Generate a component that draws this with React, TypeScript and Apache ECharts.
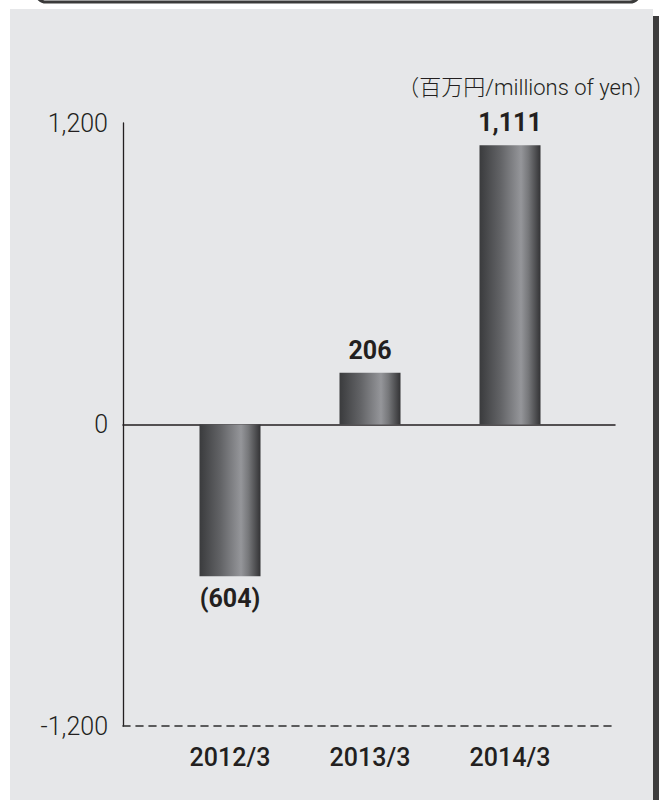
import React, { useEffect, useRef } from "react";
import * as echarts from "echarts";

const categories = ["2012/3", "2013/3", "2014/3"];
const values = [-604, 206, 1111];
const yTicks = [-1200, 0, 1200];
const unitLabel = "（百万円/millions of yen）";

const INK = "#231f20";

export default function App() {
  const ref = useRef<HTMLDivElement>(null);
  useEffect(() => {
    if (!ref.current) return;
    const chart = echarts.init(ref.current, undefined, { renderer: "svg" });
    const barGradient = new echarts.graphic.LinearGradient(0, 0, 1, 0, [
      { offset: 0, color: "#3a3b3d" },
      { offset: 0.35, color: "#636467" },
      { offset: 0.68, color: "#95969a" },
      { offset: 0.8, color: "#77787b" },
      { offset: 1, color: "#333335" },
    ]);
    const fmt = (v: number) => Math.abs(v).toLocaleString("en-US");
    chart.setOption({
      animation: false,
      backgroundColor: "#ffffff",
      graphic: [
        {
          type: "rect",
          z: -10,
          shape: { x: 36, y: -30, width: 604, height: 32, r: 10 },
          style: { fill: "none", stroke: "#3a3a3a", lineWidth: 3 },
          silent: true,
        },
        {
          type: "rect",
          z: -10,
          shape: { x: 10, y: 9, width: 643, height: 800 },
          style: { fill: "#e6e7e9" },
          silent: true,
        },
        {
          type: "rect",
          z: -10,
          shape: { x: 653, y: 16, width: 6, height: 790 },
          style: { fill: "#3d3d3d" },
          silent: true,
        },
        {
          type: "text",
          z: 10,
          x: 655,
          y: 87,
          style: {
            text: unitLabel,
            align: "right",
            verticalAlign: "middle",
            fill: INK,
            font: '300 22px Roboto, "Noto Sans CJK JP", sans-serif',
          },
          silent: true,
        },
      ],
      grid: [
        { left: 123, right: 44, top: 123, bottom: 74, containLabel: false },
        { left: 160, width: 420, top: 123, bottom: 74, containLabel: false },
      ],
      xAxis: [
        {
          type: "category",
          gridIndex: 0,
          data: categories,
          axisLine: { show: true, onZero: true, lineStyle: { color: INK, width: 1.5 } },
          axisTick: { show: false },
          axisLabel: { show: false },
          splitLine: { show: false },
        },
        {
          type: "category",
          gridIndex: 0,
          data: categories,
          position: "bottom",
          axisLine: {
            show: true,
            onZero: false,
            lineStyle: { color: "#2e2e2e", width: 1.6, type: [7, 6] },
          },
          axisTick: { show: false },
          axisLabel: { show: false },
          splitLine: { show: false },
        },
        {
          type: "category",
          gridIndex: 1,
          data: categories,
          axisLine: { show: false, onZero: false },
          axisTick: { show: false },
          axisLabel: {
            show: true,
            margin: 19,
            fontSize: 25,
            fontWeight: 500,
            fontFamily: "Roboto, 'Liberation Sans', sans-serif",
            color: INK,
          },
          splitLine: { show: false },
        },
      ],
      yAxis: [
        {
          type: "value",
          gridIndex: 0,
          min: yTicks[0],
          max: yTicks[yTicks.length - 1],
          interval: 1200,
          axisLine: { show: true, lineStyle: { color: INK, width: 1.3 } },
          axisTick: { show: false },
          splitLine: { show: false },
          axisLabel: {
            margin: 15,
            fontSize: 25,
            fontWeight: 300,
            fontFamily: "Roboto, 'Liberation Sans', sans-serif",
            color: INK,
            formatter: (v: number) => v.toLocaleString("en-US"),
          },
        },
        {
          type: "value",
          gridIndex: 1,
          min: yTicks[0],
          max: yTicks[yTicks.length - 1],
          interval: 1200,
          show: false,
        },
      ],
      series: [
        {
          type: "bar",
          xAxisIndex: 2,
          yAxisIndex: 1,
          barWidth: 61,
          data: values.map((v) => ({
            value: v,
            label: { position: v < 0 ? "bottom" : "top" },
          })),
          itemStyle: { color: barGradient },
          label: {
            show: true,
            distance: 10,
            fontSize: 25,
            fontWeight: "bold",
            fontFamily: "Roboto, 'Liberation Sans', sans-serif",
            color: INK,
            formatter: (p: any) => (p.value < 0 ? `(${fmt(p.value)})` : fmt(p.value)),
          },
        },
      ],
    });
    return () => chart.dispose();
  }, []);
  return (
    <div
      ref={ref}
      style={{ position: "absolute", left: 0, top: 0, width: 659, height: 800 }}
    />
  );
}
